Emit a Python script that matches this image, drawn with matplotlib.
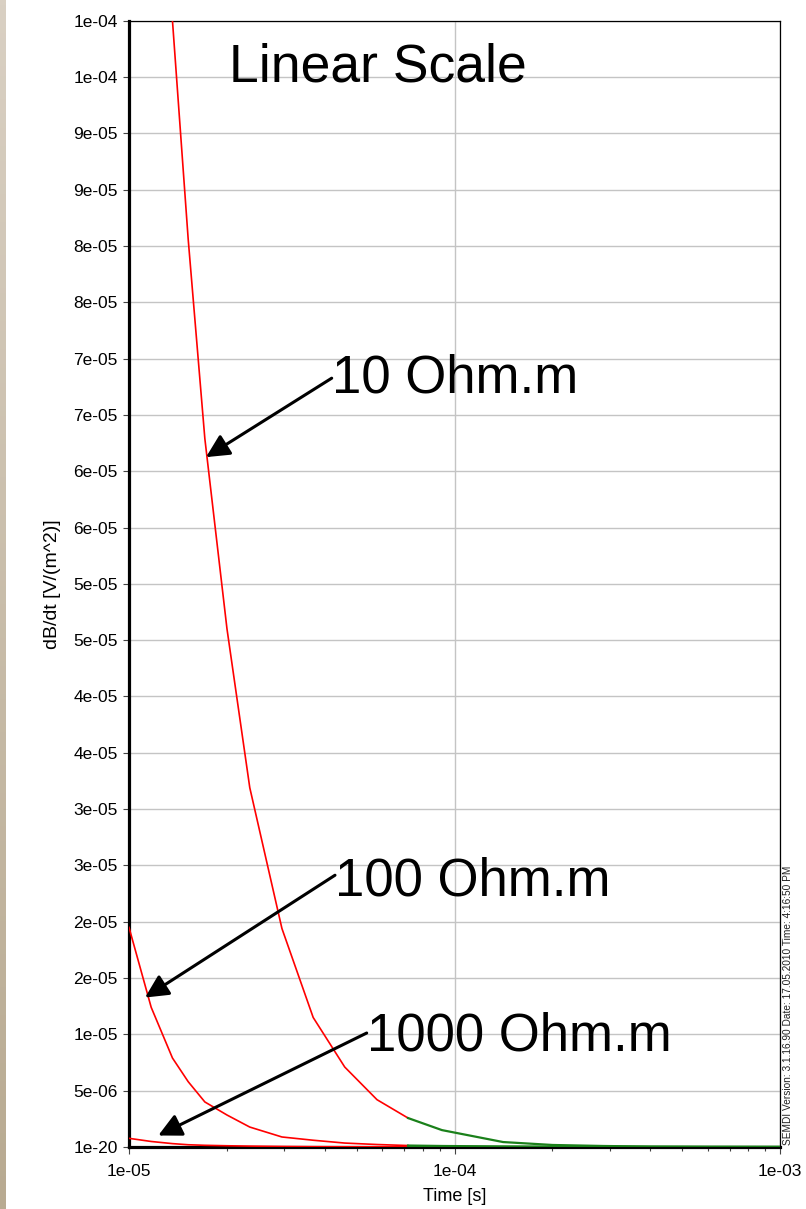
import numpy as np
import matplotlib
matplotlib.use("Agg")
import matplotlib.pyplot as plt
from matplotlib.ticker import FixedLocator, NullFormatter, LogLocator

plt.rcParams['font.family'] = ['Liberation Sans', 'DejaVu Sans']

# Gate times [s] and dB/dt responses [V/(m^2)] for the three half-space models
gate_times = [1.0e-5, 1.17e-5, 1.36e-5, 1.52e-5, 1.71e-5, 2.0e-5, 2.35e-5, 2.95e-5,
              3.68e-5, 4.6e-5, 5.78e-5, 7.2e-5, 9.15e-5, 1.41e-4, 2.0e-4, 2.86e-4,
              4.0e-4, 6.0e-4, 1.0e-3]
resp_10 = [1.8e-4, 1.35e-4, 1.0e-4, 8.06e-5, 6.29e-5, 4.6e-5, 3.19e-5, 1.94e-5,
           1.15e-5, 7.1e-6, 4.2e-6, 2.57e-6, 1.5e-6, 4.4e-7, 1.8e-7, 9e-8,
           4e-8, 2e-8, 1e-8]
resp_100 = [1.95e-5, 1.24e-5, 7.9e-6, 5.8e-6, 4.0e-6, 2.84e-6, 1.77e-6, 8.9e-7,
            6.0e-7, 3.5e-7, 2.2e-7, 1.3e-7, 9e-8, 5e-8, 3e-8, 2e-8,
            1e-8, 5e-9, 2e-9]
resp_1000 = [7.7e-7, 4.9e-7, 3.0e-7, 2.0e-7, 1.5e-7, 1.1e-7, 8e-8, 5e-8,
             3e-8, 2e-8, 1.5e-8, 1e-8, 7e-9, 4e-9, 2e-9, 1e-9,
             5e-10, 2e-10, 1e-10]
split_idx = 11  # late-time gates drawn in green

ytick_vals = [0, 5e-6, 1e-5, 1.5e-5, 2e-5, 2.5e-5, 3e-5, 3.5e-5, 4e-5, 4.5e-5, 5e-5,
              5.5e-5, 6e-5, 6.5e-5, 7e-5, 7.5e-5, 8e-5, 8.5e-5, 9e-5, 9.5e-5, 1e-4]
ytick_labels = ["1e-20", "5e-06", "1e-05", "2e-05", "2e-05", "3e-05", "3e-05", "4e-05",
                "4e-05", "5e-05", "5e-05", "6e-05", "6e-05", "7e-05", "7e-05", "8e-05",
                "8e-05", "9e-05", "9e-05", "1e-04", "1e-04"]
xtick_vals = [1e-5, 1e-4, 1e-3]
xtick_labels = ["1e-05", "1e-04", "1e-03"]

W, H = 806, 1209
fig = plt.figure(figsize=(W / 100, H / 100), dpi=100)
fig.patch.set_facecolor("white")

# beige strip on the left edge
strip = fig.add_axes([0, 0, 6 / W, 1])
grad = np.linspace(0, 1, 256)[:, None, None]
top_c = np.array([217, 208, 195]) / 255
bot_c = np.array([184, 170, 145]) / 255
strip.imshow(top_c * (1 - grad) + bot_c * grad, aspect="auto")
strip.axis("off")

ax = fig.add_axes([129 / W, 1 - 1147 / H, 651 / W, (1147 - 20.7) / H])
ax.set_xscale("log")
ax.set_xlim(1e-5, 1e-3)
ax.set_ylim(0, 1e-4)

for resp in (resp_10, resp_100, resp_1000):
    ax.plot(gate_times[:split_idx + 1], resp[:split_idx + 1], color="#ff0000", lw=1.2, zorder=3)
    ax.plot(gate_times[split_idx:], resp[split_idx:], color="#1a801a", lw=1.6, zorder=3)

ax.yaxis.set_major_locator(FixedLocator(ytick_vals))
ax.set_yticklabels(ytick_labels)
ax.xaxis.set_major_locator(FixedLocator(xtick_vals))
ax.set_xticklabels(xtick_labels)
ax.xaxis.set_minor_locator(LogLocator(base=10, subs=np.arange(2, 10)))
ax.xaxis.set_minor_formatter(NullFormatter())

ax.grid(True, which="major", color="#c4c4c4", lw=1.0, zorder=0)
ax.set_axisbelow(True)
ax.tick_params(axis="y", direction="out", length=4, width=0.8, color="#444444",
               labelsize=12.5, pad=4)
ax.tick_params(axis="x", which="major", direction="out", length=5, width=0.8,
               color="#444444", labelsize=12.5, pad=7)
ax.tick_params(axis="x", which="minor", direction="out", length=3, width=0.8, color="#444444")

for side in ("left", "bottom"):
    ax.spines[side].set_linewidth(2.3)
for side in ("top", "right"):
    ax.spines[side].set_linewidth(0.9)

ax.set_xlabel("Time [s]", fontsize=13, labelpad=7)
ax.set_ylabel("dB/dt [V/(m^2)]", fontsize=14, labelpad=9)

ax.text(0.1536, 0.9459, "Linear Scale", transform=ax.transAxes, fontsize=38.5,
        ha="left", va="baseline")

# model labels with arrows pointing at the curves
labels = ["10 Ohm.m", "100 Ohm.m", "1000 Ohm.m"]
arrow_tips = [(1.724e-5, 6.125e-5), (1.12e-5, 1.327e-5), (1.23e-5, 1.02e-6)]
arrow_tails = [(4.195e-5, 6.826e-5), (4.294e-5, 2.413e-5), (5.373e-5, 1.012e-5)]
text_pos = [(4.195e-5, 6.70e-5), (4.294e-5, 2.236e-5), (5.373e-5, 8.6e-6)]
for lab, tip, tail, pos in zip(labels, arrow_tips, arrow_tails, text_pos):
    ax.annotate("", xy=tip, xytext=tail,
                arrowprops=dict(arrowstyle="-|>,head_length=0.7,head_width=0.35",
                                mutation_scale=20, lw=2.2, color="black",
                                shrinkA=0, shrinkB=0), zorder=5)
    ax.text(pos[0], pos[1], lab, fontsize=38, ha="left", va="baseline", zorder=5)

fig.text(788 / W, 1 - 1145 / H,
         "SEMDI Version: 3.1.16.90 Date: 17.05.2010 Time: 4:16:50 PM",
         rotation=90, fontsize=7.3, ha="center", va="bottom", color="#222222")

fig.savefig("out.png", dpi=100)
